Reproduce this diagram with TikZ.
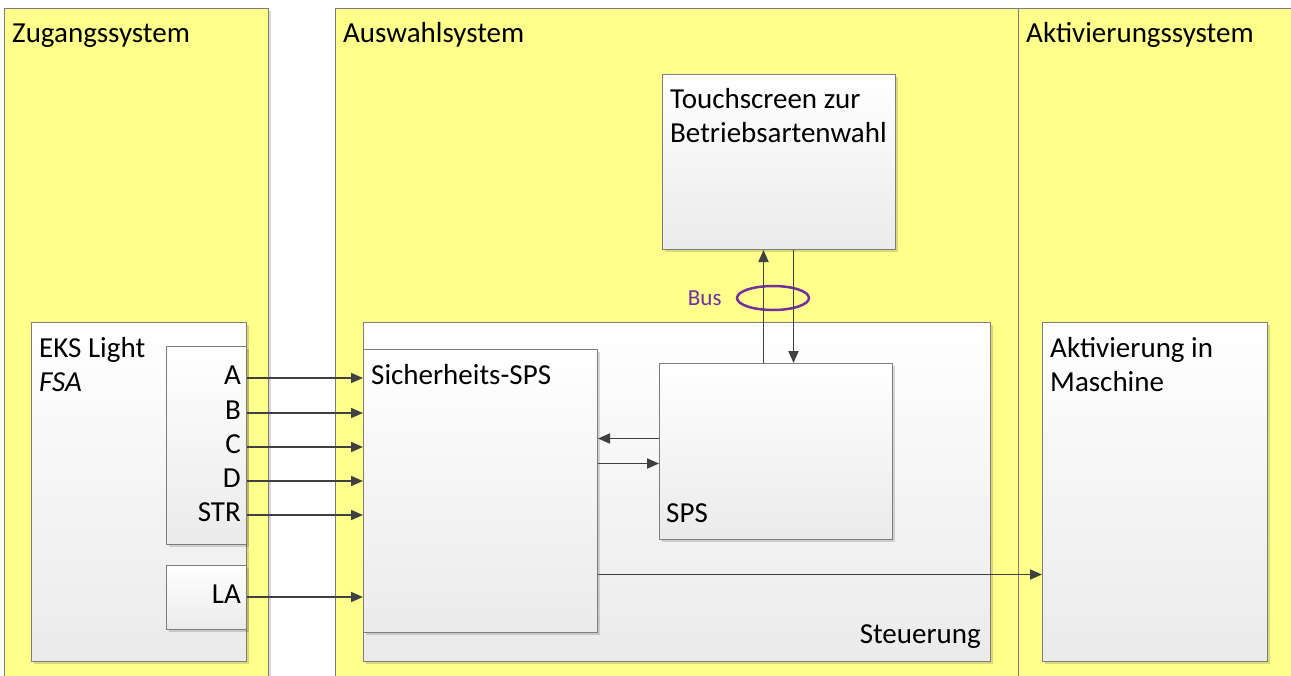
\documentclass[tikz,border=0pt]{standalone}
\usepackage{fontspec}
\setmainfont{Carlito}
\usetikzlibrary{positioning,shapes.geometric,arrows.meta,shadows}

\definecolor{zonefill}{RGB}{255,255,140}
\definecolor{framegray}{RGB}{125,125,125}
\definecolor{wiregray}{RGB}{64,64,64}
\definecolor{buspurple}{RGB}{112,48,160}

\newcommand{\lblfont}{\fontsize{29}{34.5}\selectfont}
\newcommand{\busfont}{\fontsize{23}{28}\selectfont}

\begin{document}
\begin{tikzpicture}[x=1pt, y=-1pt,
    % Styles
    zone/.style={draw=framegray, fill=zonefill, line width=1pt, anchor=north west, inner sep=0pt,
        drop shadow={shadow xshift=2pt, shadow yshift=-2pt, fill=black, opacity=0.15}},
    unit/.style={draw=framegray, top color=white, bottom color=black!8, line width=1pt, anchor=north west, inner sep=0pt,
        drop shadow={shadow xshift=2pt, shadow yshift=-2pt, fill=black, opacity=0.15}},
    txt/.style={font=\lblfont, inner sep=0pt, align=left},
    pinlbl/.style={font=\lblfont, inner sep=0pt, anchor=east, text height=18pt, text depth=6pt},
    wire/.style={-{Triangle[length=12pt, width=10pt]}, wiregray, line width=1.8pt},
    ring/.style={ellipse, draw=buspurple, line width=2.5pt, minimum width=72pt, minimum height=24pt, inner sep=0pt},
]

\useasboundingbox (0,0) rectangle (1291,675);
\clip (0,0) rectangle (1291,675);

% Three system zones
\node[zone, minimum width=264pt, minimum height=700pt] (zugang) at (4,8) {};
\node[zone, minimum width=683pt, minimum height=700pt] (auswahl) at (335,8) {};
\node[zone, minimum width=300pt, minimum height=700pt] (aktiv) at (1018,8) {};

\node[txt, anchor=base west] (zugangtitle) at ([shift={(8pt,-34pt)}]zugang.north west) {Zugangssystem};
\node[txt, anchor=base west] (auswahltitle) at ([shift={(8pt,-34pt)}]auswahl.north west) {Auswahlsystem};
\node[txt, anchor=base west] (aktivtitle) at ([shift={(8pt,-34pt)}]aktiv.north west) {Aktivierungssystem};

% Access system: EKS Light with its outputs
\node[unit, minimum width=215pt, minimum height=339pt] (eks) at (31,322) {};
\node[unit, minimum width=80pt, minimum height=198pt] (eksio) at (166,346) {};
\node[unit, minimum width=80pt, minimum height=64pt] (eksla) at (166,565) {};
\node[txt, anchor=north west] (eksname) at ([shift={(8pt,-15pt)}]eks.north west) {EKS Light\\\textit{FSA}};

\node[pinlbl] (pA) at (241,378) {A};
\node[pinlbl] (pB) at (241,413) {B};
\node[pinlbl] (pC) at (241,447) {C};
\node[pinlbl] (pD) at (241,481) {D};
\node[pinlbl] (pSTR) at (241,515) {STR};
\node[pinlbl] (pLA) at (241,597) {LA};

% Selection system: control with safety PLC and PLC
\node[unit, minimum width=627pt, minimum height=339pt] (steuer) at (363,322) {};
\node[unit, minimum width=234pt, minimum height=283pt] (sisps) at (363,349) {};
\node[unit, minimum width=233pt, minimum height=176pt] (sps) at (659,363) {};
\node[unit, minimum width=233pt, minimum height=175pt] (touch) at (662,74) {};

\node[txt, anchor=base east] (steuername) at ([shift={(-10pt,19pt)}]steuer.south east) {Steuerung};
\node[txt, anchor=north west] (sispsname) at ([shift={(8pt,-15pt)}]sisps.north west) {Sicherheits-SPS};
\node[txt, anchor=base west] (spsname) at ([shift={(7pt,18pt)}]sps.south west) {SPS};
\node[txt, anchor=north west] (touchname) at ([shift={(8pt,-14pt)}]touch.north west) {Touchscreen zur\\Betriebsartenwahl};

% Activation system
\node[unit, minimum width=225pt, minimum height=339pt] (aktmasch) at (1042,322) {};
\node[txt, anchor=north west] (aktmaschname) at ([shift={(8pt,-15pt)}]aktmasch.north west) {Aktivierung in\\Maschine};

% Bus marker
\node[ring] (busring) at (773,298) {};
\node[txt, text=buspurple, font=\busfont, left=14pt of busring] (bustag) {Bus};

% Signal lines
\draw[wire] (pA.east -| eksio.east) -- (pA.east -| sisps.west);
\draw[wire] (pB.east -| eksio.east) -- (pB.east -| sisps.west);
\draw[wire] (pC.east -| eksio.east) -- (pC.east -| sisps.west);
\draw[wire] (pD.east -| eksio.east) -- (pD.east -| sisps.west);
\draw[wire] (pSTR.east -| eksio.east) -- (pSTR.east -| sisps.west);
\draw[wire] (pLA.east -| eksla.east) -- (pLA.east -| sisps.west);

\draw[wire] ([yshift=13pt]sps.west) -- ([yshift=13pt]sps.west -| sisps.east);
\draw[wire] ([yshift=-12pt]sps.west -| sisps.east) -- ([yshift=-12pt]sps.west);
\draw[wire] ([yshift=-83.5pt]sisps.east) -- ([yshift=-83.5pt]sisps.east -| aktmasch.west);

\draw[wire] ([xshift=-12.5pt]sps.north) -- ([xshift=-12.5pt]sps.north |- touch.south);
\draw[wire] ([xshift=17.5pt]sps.north |- touch.south) -- ([xshift=17.5pt]sps.north);

\end{tikzpicture}
\end{document}
